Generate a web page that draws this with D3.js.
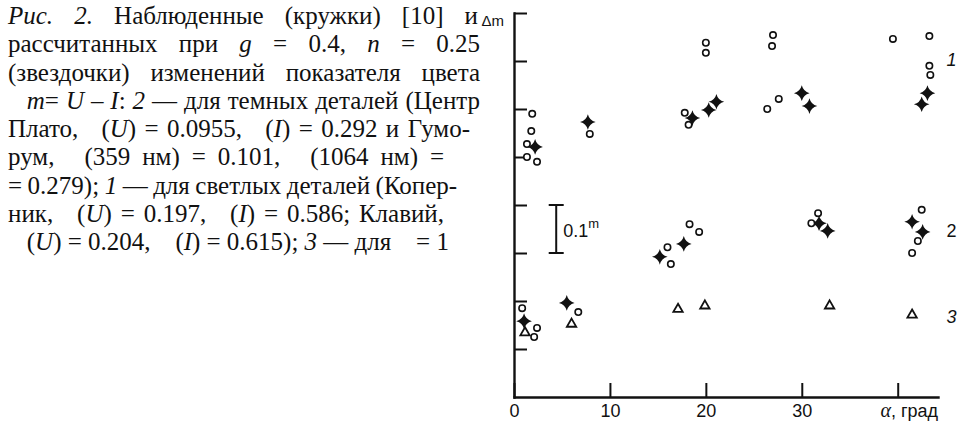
<!DOCTYPE html>
<html>
<head>
<meta charset="utf-8">
<script src="https://cdn.jsdelivr.net/npm/d3@7"></script>
<style>
  html, body { margin: 0; padding: 0; background: #fff; }
  svg { display: block; }
  .caption text { font-family: "Liberation Serif", "Times New Roman", serif; font-size: 25px; fill: #111; }
  .chart text { font-family: "Liberation Sans", Arial, sans-serif; fill: #111; }
</style>
</head>
<body>
<svg id="fig" width="963" height="428"></svg>
<script>
// Caption lines; _..._ marks italic, a lone nbsp stands for a symbol lost in the source
const captionLines = [
  "_Рис._ _2._ Наблюденные (кружки) [10] и",
  "рассчитанных при _g_ = 0.4, _n_ = 0.25",
  "(звездочки) изменений показателя цвета",
  "\u00a0\u00a0\u00a0_m_= _U_ – _I_: _2_ — для темных деталей (Центр",
  "Плато, \u00a0 (_U_) = 0.0955, \u00a0 (_I_) = 0.292 и Гумо-",
  "рум, \u00a0 (359 нм) = 0.101, \u00a0 (1064 нм) =",
  "= 0.279); _1_ — для светлых деталей (Копер-",
  "ник, \u00a0 (_U_) = 0.197, \u00a0 (_I_) = 0.586; Клавий,",
  "\u00a0\u00a0\u00a0(_U_) = 0.204, \u00a0\u00a0 (_I_) = 0.615); _3_ — для \u00a0\u00a0 = 1"
];

// observed (circles): [alpha, delta m]
const observed = [
  [1.9, 0.590], [1.8, 0.554], [1.35, 0.527], [1.35, 0.500], [2.4, 0.490], [7.9, 0.548],
  [20.0, 0.738], [20.0, 0.717], [17.8, 0.592], [18.2, 0.567],
  [27.0, 0.754], [26.9, 0.731], [26.4, 0.600], [27.6, 0.621],
  [39.5, 0.746], [43.3, 0.752], [43.3, 0.690], [43.4, 0.671],
  [18.3, 0.360], [19.3, 0.344], [16.0, 0.312], [16.35, 0.277],
  [31.7, 0.383], [31.0, 0.362],
  [42.5, 0.390], [42.1, 0.325], [41.5, 0.300],
  [0.85, 0.185], [2.4, 0.144], [2.1, 0.125], [6.7, 0.177]
];

// computed with g = 0.4, n = 0.25 (stars)
const computed = [
  [2.2, 0.521], [7.7, 0.573], [18.6, 0.581], [20.3, 0.598], [21.1, 0.615],
  [30.0, 0.633], [30.8, 0.606], [43.1, 0.633], [42.5, 0.610],
  [17.7, 0.319], [15.2, 0.292], [31.8, 0.362], [32.7, 0.346], [41.5, 0.365], [42.6, 0.344],
  [1.05, 0.158], [5.5, 0.196]
];

// curve 3 (triangles)
const curve3 = [
  [1.15, 0.134], [6.0, 0.152], [17.1, 0.183], [19.9, 0.190], [32.9, 0.190], [41.5, 0.171]
];

const xTicks = [0, 10, 20, 30, 40];
const xTickLabels = ['0', '10', '20', '30', ''];
const yTicks = [0.1, 0.2, 0.3, 0.4, 0.5, 0.6, 0.7, 0.8];
const curveNames = ['1', '2', '3'];
const curveNameDm = [0.69, 0.333, 0.154];

// layout
const captionLeft = 8;
const captionRight = [478, 480, 480, 480, 470, 444, 440, 444, null];
const captionTop = 24;
const captionStep = 28.25;

const svg = d3.select('#fig');

// ---- caption (justified lines)
const cap = svg.append('g').attr('class', 'caption');

function addWord(g, word) {
  const t = g.append('text');
  word.split('_').forEach((part, i) => {
    if (!part) return;
    t.append('tspan')
      .attr('font-style', i % 2 ? 'italic' : 'normal')
      .text(part);
  });
  return t;
}

captionLines.forEach((line, i) => {
  const yBase = captionTop + i * captionStep;
  const lineG = cap.append('g');
  const words = line.split(' ').map(w => addWord(lineG, w));
  const widths = words.map(t => t.node().getComputedTextLength());
  const total = d3.sum(widths);
  const right = captionRight[i];
  // justify, but never squeeze a gap below a plain space
  const gap = right ? Math.max(5.5, (right - captionLeft - total) / (words.length - 1)) : 6.2;
  let xPos = captionLeft;
  words.forEach((t, j) => {
    t.attr('x', xPos).attr('y', yBase);
    xPos += widths[j] + gap;
  });
});

// ---- chart
const x = d3.scaleLinear().domain([0, 44.2]).range([514, 938]);
const y = d3.scaleLinear().domain([0, 0.8]).range([397, 13]);

const chart = svg.append('g').attr('class', 'chart');

const xAxis = chart.append('g')
  .attr('transform', `translate(0,${y(0)})`)
  .call(d3.axisBottom(x)
    .tickValues(xTicks)
    .tickFormat((d, i) => xTickLabels[i])
    .tickSizeInner(-14)
    .tickSizeOuter(0)
    .tickPadding(7));

const yAxis = chart.append('g')
  .attr('transform', `translate(${x(0)},0)`)
  .call(d3.axisRight(y)
    .tickValues(yTicks)
    .tickFormat('')
    .tickSize(13)
    .tickSizeOuter(0));

[xAxis, yAxis].forEach(a => {
  a.select('.domain').attr('stroke', '#111').attr('stroke-width', 2.4).attr('stroke-linecap', 'square');
  a.selectAll('.tick line').attr('stroke', '#111').attr('stroke-width', 2);
  a.selectAll('.tick text').attr('font-size', 18).attr('fill', '#111')
    .attr('font-family', '"Liberation Sans", Arial, sans-serif');
});

// axis titles
chart.append('text')
  .attr('x', 504).attr('y', 26)
  .attr('text-anchor', 'end')
  .attr('font-size', 15)
  .text('Δm');

const alphaLabel = chart.append('text')
  .attr('x', 938).attr('y', 417)
  .attr('text-anchor', 'end')
  .attr('font-size', 18);
alphaLabel.append('tspan')
  .attr('font-family', '"Liberation Serif", serif')
  .attr('font-style', 'italic')
  .attr('font-size', 20)
  .text('α');
alphaLabel.append('tspan').text(', град');

// scale bar 0.1 m
const barX = x(4.4);
const bar = chart.append('g').attr('stroke', '#111').attr('stroke-width', 2);
bar.append('line').attr('x1', barX).attr('x2', barX).attr('y1', y(0.4)).attr('y2', y(0.3));
[0.4, 0.3].forEach(v => {
  bar.append('line').attr('x1', barX - 7.5).attr('x2', barX + 7.5).attr('y1', y(v)).attr('y2', y(v));
});
const barLabel = chart.append('text')
  .attr('x', barX + 7).attr('y', y(0.35) + 8)
  .attr('font-size', 18);
barLabel.append('tspan').text('0.1');
barLabel.append('tspan').attr('dy', -9).attr('font-size', 13).text('m');

// curve numbers
curveNames.forEach((name, i) => {
  chart.append('text')
    .attr('x', x(45.6)).attr('y', y(curveNameDm[i]))
    .attr('text-anchor', 'middle')
    .attr('font-size', 18)
    .attr('font-style', name === '2' ? 'normal' : 'italic')
    .text(name);
});

// four-pointed star symbol; size = outer radius
const star4 = {
  draw(ctx, r) {
    const c = r * 0.2;
    ctx.moveTo(0, -r);
    ctx.quadraticCurveTo(c, -c, r, 0);
    ctx.quadraticCurveTo(c, c, 0, r);
    ctx.quadraticCurveTo(-c, c, -r, 0);
    ctx.quadraticCurveTo(-c, -c, 0, -r);
    ctx.closePath();
  }
};

chart.append('g').selectAll('path')
  .data(computed)
  .join('path')
  .attr('transform', d => `translate(${x(d[0])},${y(d[1])})`)
  .attr('d', d3.symbol().type(star4).size(7.8))
  .attr('fill', '#111');

chart.append('g').selectAll('circle')
  .data(observed)
  .join('circle')
  .attr('cx', d => x(d[0]))
  .attr('cy', d => y(d[1]))
  .attr('r', 3.2)
  .attr('fill', '#fff')
  .attr('stroke', '#111')
  .attr('stroke-width', 1.6);

chart.append('g').selectAll('path')
  .data(curve3)
  .join('path')
  .attr('transform', d => `translate(${x(d[0])},${y(d[1])})`)
  .attr('d', d3.symbol().type(d3.symbolTriangle).size(38))
  .attr('fill', '#fff')
  .attr('stroke', '#111')
  .attr('stroke-width', 1.8);
</script>
</body>
</html>
